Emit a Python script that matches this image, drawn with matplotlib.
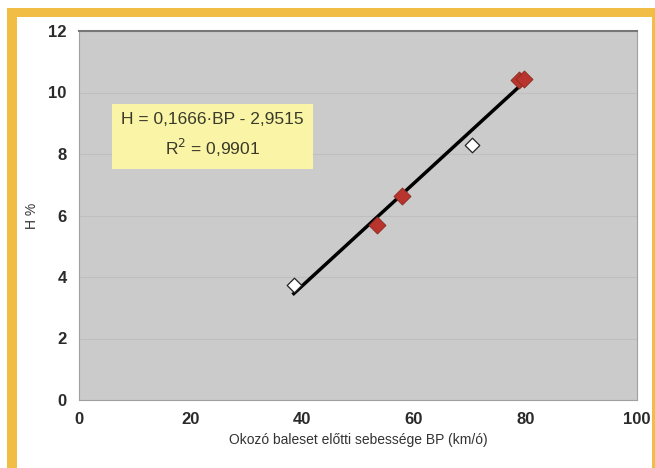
import matplotlib
matplotlib.use('Agg')
import matplotlib.pyplot as plt
from matplotlib.patches import Rectangle
import numpy as np

plt.rcParams['font.family'] = ['Liberation Sans', 'DejaVu Sans']

# measured points
white_x = [38.5, 70.5]
white_y = [3.75, 8.3]
red_x = [53.4, 57.9, 78.9, 79.7]
red_y = [5.68, 6.62, 10.42, 10.45]

# regression H = a*BP + b
slope = 0.1666
intercept = -2.9515
fit_x = [38.5, 80.0]

eq_text = 'H = 0,1666·BP - 2,9515\nR$^2$ = 0,9901'

fig = plt.figure(figsize=(6.55, 4.68), dpi=100)
fig.patch.set_facecolor('white')

# orange frame
orange = '#F2BD45'
fig.add_artist(Rectangle((7 / 655, 0), 10 / 655, 1 - 8 / 468, transform=fig.transFigure,
                         facecolor=orange, edgecolor='none'))
fig.add_artist(Rectangle((7 / 655, 1 - 17 / 468), 1, 9 / 468, transform=fig.transFigure,
                         facecolor=orange, edgecolor='none'))
fig.add_artist(Rectangle((652 / 655, 0), 3 / 655, 1 - 8 / 468, transform=fig.transFigure,
                         facecolor=orange, edgecolor='none'))

ax = fig.add_axes([79 / 655, 1 - 400 / 468, 558 / 655, 369 / 468])
ax.set_facecolor('#CBCBCB')
ax.set_xlim(0, 100)
ax.set_ylim(0, 12)
ax.set_xticks(range(0, 101, 20))
ax.set_yticks(range(0, 13, 2))
ax.grid(axis='y', color='#BFBFBF', linewidth=0.8)
ax.set_axisbelow(True)
for s in ax.spines.values():
    s.set_color('#a0a0a0')
    s.set_linewidth(0.8)
ax.spines['top'].set_color('#777777')
ax.spines['top'].set_linewidth(1.5)
ax.tick_params(length=0, labelsize=12, colors='#2a2a2a', pad=9)
for lbl in ax.get_xticklabels() + ax.get_yticklabels():
    lbl.set_fontweight('bold')

fx = np.array(fit_x)
ax.plot(fx, slope * fx + intercept, color='black', linewidth=2.5, zorder=3)
ax.scatter(red_x, red_y, marker='D', s=75, color='#B8342C', edgecolor='#8a2a22', linewidth=0.6, zorder=4)
ax.scatter(white_x, white_y, marker='D', s=55, color='white', edgecolor='#222222', linewidth=0.9, zorder=4)

ax.text(0.239, 0.716, eq_text, transform=ax.transAxes, ha='center', va='center',
        fontsize=12.5, color='#3a3a2a', linespacing=1.55,
        bbox=dict(boxstyle='square,pad=0.55', facecolor='#F9F4A6', edgecolor='none'))

ax.set_xlabel('Okozó baleset előtti sebessége BP (km/ó)', fontsize=10, color='#333333', labelpad=4)
ax.set_ylabel('H %', fontsize=10, color='#333333')
ax.yaxis.set_label_coords(-0.072, 0.5)

fig.savefig('out.png', dpi=100)
